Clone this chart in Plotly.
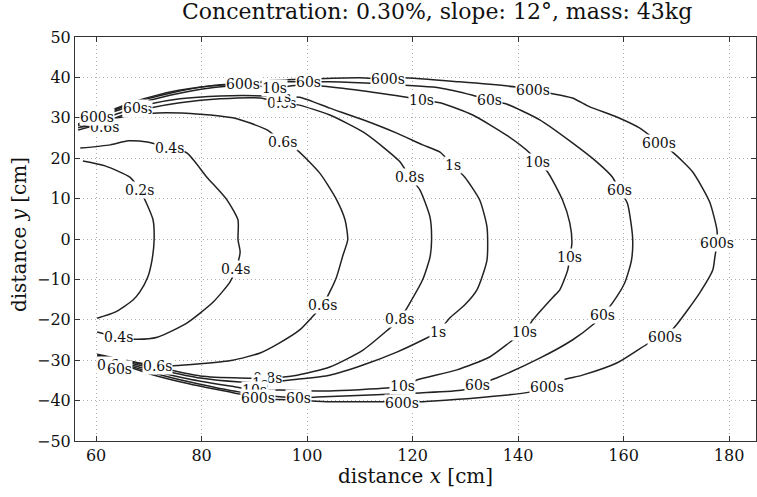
import plotly.graph_objects as go

# ---- contour data (x [cm], y [cm]) ----
levels = ["0.2s", "0.4s", "0.6s", "0.8s", "1s", "10s", "60s", "600s"]

x_02 = [57.5, 61.7, 66.4, 68.3, 69.7, 70.8, 71.0, 70.6, 69.8, 68.3, 67.0, 63.6, 60.2]
y_02 = [19.3, 18.1, 15.3, 12.1, 8.4, 4.7, -0.2, -5.2, -9.4, -13.1, -15.1, -18.1, -19.6]

x_04 = [57.0, 62.7, 66.1, 69.7, 74.0, 77.2, 81.0, 84.8, 86.9, 86.9, 87.3, 86.5, 85.4, 82.2, 77.2, 71.6, 67.8, 64.2, 60.2]
y_04 = [22.5, 23.3, 24.3, 24.0, 22.5, 21.3, 15.3, 9.7, 4.7, -0.2, -3.2, -7.4, -10.6, -15.6, -20.8, -24.3, -24.8, -24.3, -23.0]

x_06 = [57.0, 61.1, 64.2, 71.6, 79.7, 85.9, 89.2, 92.4, 95.4, 98.1, 102.4, 105.6, 107.2, 107.7, 106.8, 105.5, 103.0,
        101.1, 98.6, 94.8, 91.1, 85.9, 79.7, 74.6, 71.6, 68.3, 60.2]
y_06 = [27.7, 28.2, 30.0, 31.2, 30.9, 30.0, 28.7, 27.0, 24.0, 22.0, 16.3, 9.7, 4.7, -0.2, -4.0, -9.7, -16.3,
        -19.1, -22.5, -25.7, -28.2, -30.0, -30.9, -31.4, -31.4, -30.7, -28.5]

x_08 = [56.6, 60.8, 64.5, 70.2, 75.9, 83.5, 91.1, 95.2, 98.3, 104.3, 110.6, 115.1, 117.6, 119.5, 121.4, 123.3, 123.6,
        123.3, 121.9, 119.5, 117.6, 115.3, 110.6, 104.3, 98.1, 92.4, 87.3, 79.7, 72.1, 66.4, 60.2]
y_08 = [27.0, 28.5, 30.4, 32.4, 33.7, 34.7, 34.9, 33.7, 33.2, 30.7, 26.5, 22.0, 19.1, 15.3, 12.1, 5.4, -0.2,
        -4.5, -10.1, -15.8, -19.8, -22.5, -27.5, -31.7, -33.7, -34.4, -34.4, -33.9, -31.9, -30.4, -28.7]

x_1 = [56.6, 60.8, 64.5, 70.2, 75.9, 83.5, 92.0, 95.4, 98.6, 104.3, 110.6, 117.0, 121.9, 125.2, 127.6, 129.9, 132.7,
       134.1, 134.1, 132.2, 129.9, 127.0, 124.8, 121.9, 117.0, 110.6, 104.3, 98.1, 91.1, 87.3, 79.7, 72.1, 66.4, 60.2]
y_1 = [27.5, 29.5, 31.2, 33.4, 34.7, 35.4, 35.4, 35.1, 35.1, 32.4, 29.5, 26.2, 23.3, 21.5, 18.3, 15.3, 9.7,
       3.0, -5.2, -12.6, -16.3, -19.6, -23.0, -25.0, -28.0, -31.2, -33.7, -34.7, -35.6, -35.4, -34.4, -32.4, -30.7, -29.0]

x_10 = [56.6, 60.8, 66.4, 74.0, 81.6, 89.2, 93.9, 98.6, 106.2, 113.8, 118.9, 121.7, 125.2, 131.4, 137.8, 142.2, 143.7,
        145.6, 148.4, 149.8, 150.2, 149.8, 149.4, 147.9, 146.6, 142.8, 141.3, 139.0, 134.6, 128.4, 120.8, 118.0,
        115.1, 104.3, 94.8, 90.1, 85.4, 77.8, 70.2, 64.5, 60.2]
y_10 = [28.0, 30.2, 32.9, 35.6, 37.4, 38.1, 37.4, 38.1, 37.4, 36.1, 35.1, 34.4, 33.7, 30.7, 25.7, 21.3, 19.1,
        16.6, 9.7, 4.0, -1.0, -4.5, -7.7, -12.6, -14.4, -20.0, -23.0, -25.0, -29.2, -32.4, -34.9, -36.4,
        -36.9, -37.6, -37.4, -37.4, -36.4, -34.7, -32.4, -30.4, -29.2]

x_60 = [56.6, 60.8, 66.4, 74.0, 81.6, 89.2, 96.7, 100.2, 104.3, 113.8, 125.2, 131.4, 134.6, 137.8, 144.1, 150.3, 154.9,
        157.9, 159.2, 160.7, 161.7, 161.5, 160.2, 157.9, 156.0, 154.1, 150.3, 144.1, 135.9, 132.3, 129.5, 121.4,
        111.9, 101.9, 98.3, 95.4, 87.3, 77.8, 70.2, 64.5, 60.2]
y_60 = [28.2, 30.4, 33.4, 36.1, 37.9, 38.6, 38.9, 38.9, 38.9, 38.4, 37.4, 35.6, 34.4, 33.4, 29.5, 23.8, 19.1,
        15.3, 12.1, 8.9, 0.5, -5.2, -10.9, -15.8, -18.8, -21.3, -25.0, -29.5, -34.4, -36.1, -37.4, -38.1,
        -38.6, -39.1, -39.4, -39.1, -37.9, -35.4, -32.9, -30.7, -29.5]

x_600 = [56.6, 60.8, 66.4, 74.0, 81.6, 87.8, 92.0, 100.5, 110.0, 115.3, 118.1, 128.9, 139.7, 142.8, 146.0, 150.3, 153.6,
         158.7, 163.0, 166.8, 169.3, 173.1, 176.3, 177.7, 177.7, 177.3, 176.9, 174.4, 170.0, 167.8, 164.9, 158.7,
         152.2, 148.4, 145.4, 142.2, 131.4, 121.4, 118.0, 115.7, 104.3, 98.6, 90.7, 87.3, 77.8, 70.2, 64.5, 60.2]
y_600 = [28.5, 30.7, 33.7, 36.4, 37.9, 38.4, 39.1, 39.6, 39.9, 39.6, 39.9, 38.9, 37.6, 36.9, 36.1, 34.9, 32.7,
         30.2, 27.5, 23.8, 21.5, 16.6, 9.2, 2.2, -1.0, -4.5, -7.7, -13.4, -21.3, -24.3, -25.7, -30.7,
         -33.7, -34.9, -36.6, -37.9, -39.4, -40.3, -40.6, -40.3, -40.3, -39.9, -39.4, -38.4, -35.9, -33.4, -30.9, -29.7]

contours_x = [x_02, x_04, x_06, x_08, x_1, x_10, x_60, x_600]
contours_y = [y_02, y_04, y_06, y_08, y_1, y_10, y_60, y_600]

# ---- contour labels ----
label_text = ["0.2s",
              "0.4s", "0.4s", "0.4s",
              "0.6s", "0.6s", "0.6s", "0.6s", "0.6s",
              "0.8s", "0.8s", "0.8s", "0.8s", "0.8s",
              "1s", "1s", "1s", "1s",
              "10s", "10s", "10s", "10s", "10s", "10s", "10s",
              "60s", "60s", "60s", "60s", "60s", "60s", "60s", "60s",
              "600s", "600s", "600s", "600s", "600s", "600s", "600s", "600s", "600s", "600s"]
label_x = [68.3,
           74.0, 86.5, 64.2,
           61.5, 95.4, 103.0, 71.6, 63.0,
           67.8, 95.2, 119.5, 117.6, 92.4,
           95.4, 127.6, 124.8, 91.1,
           93.9, 121.7, 143.7, 149.8, 141.3, 118.0, 90.1,
           67.4, 100.2, 134.6, 159.2, 156.0, 132.3, 98.3, 64.5,
           60.2, 87.8, 115.3, 142.8, 166.8, 177.7, 167.8, 145.4, 118.0, 90.7]
label_y = [12.1,
           22.5, -7.4, -24.3,
           27.7, 24.0, -16.3, -31.4, -31.2,
           32.2, 33.7, 15.3, -19.8, -34.4,
           35.1, 18.3, -23.0, -35.6,
           37.4, 34.4, 19.1, -4.5, -23.0, -36.4, -37.4,
           32.4, 38.9, 34.4, 12.1, -18.8, -36.1, -39.4, -32.2,
           30.2, 38.4, 39.6, 36.9, 23.8, -1.0, -24.3, -36.6, -40.6, -39.4]

x_ticks = [60, 80, 100, 120, 140, 160, 180]
y_ticks = [-50, -40, -30, -20, -10, 0, 10, 20, 30, 40, 50]

FONT = "DejaVu Serif"

fig = go.Figure()
for name, xs, ys in zip(levels, contours_x, contours_y):
    fig.add_trace(go.Scatter(x=xs, y=ys, mode="lines", name=name,
                             line=dict(color="#222222", width=1.5, shape="spline", smoothing=0.6),
                             hoverinfo="skip", showlegend=False))

for t, lx, ly in zip(label_text, label_x, label_y):
    fig.add_annotation(x=lx, y=ly, text=t, showarrow=False, xref="x", yref="y",
                       font=dict(family=FONT, size=14, color="#111111"),
                       bgcolor="white", borderpad=0)

fig.add_annotation(text="Concentration: 0.30%, slope: 12°, mass: 43kg",
                   xref="paper", yref="paper", x=0.531, y=1.062, showarrow=False,
                   xanchor="center", yanchor="middle",
                   font=dict(family=FONT, size=22, color="#111111"))
fig.add_annotation(text="distance <i>x</i> [cm]", xref="paper", yref="paper",
                   x=0.5, y=-0.087, showarrow=False, xanchor="center", yanchor="middle",
                   font=dict(family=FONT, size=20, color="#111111"))
fig.add_annotation(text="distance <i>y</i> [cm]", xref="paper", yref="paper",
                   x=-0.082, y=0.51, showarrow=False, xanchor="center", yanchor="middle",
                   textangle=-90, font=dict(family=FONT, size=20, color="#111111"))

axis_common = dict(showgrid=True, gridcolor="#b0b0b0", griddash="1px,3px", gridwidth=1,
                   showline=True, linecolor="#333333", linewidth=1, mirror="ticks",
                   ticks="inside", ticklen=5, tickcolor="#333333", zeroline=False,
                   tickfont=dict(family=FONT, size=16, color="#111111"))

fig.update_xaxes(range=[56, 185.1], tickvals=x_ticks, automargin=False, **axis_common)
fig.update_yaxes(range=[-50, 50], tickvals=y_ticks, automargin=False, **axis_common)

fig.update_layout(width=757, height=497, margin=dict(l=75, r=1, t=37, b=56),
                  plot_bgcolor="white", paper_bgcolor="white", showlegend=False)

fig.write_html("out.html", config={"displayModeBar": False},
               post_script="document.body.style.margin='0';")
